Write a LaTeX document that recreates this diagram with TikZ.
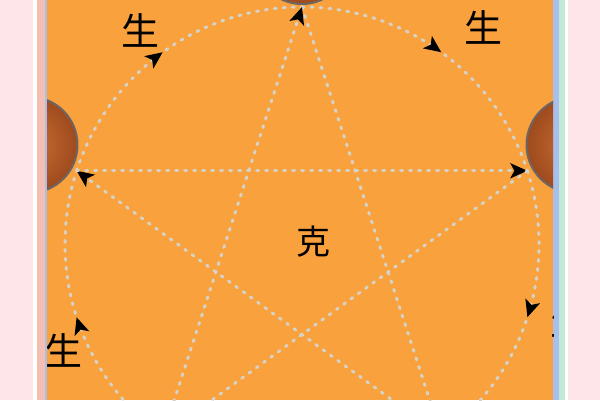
\documentclass[tikz,border=0pt]{standalone}
\usepackage{fontspec}
\newfontfamily\cjkfont{Noto Sans CJK SC}
\usetikzlibrary{positioning}
\usetikzlibrary{arrows.meta}
\usetikzlibrary{decorations.markings}

\definecolor{pagepink}{RGB}{253,229,233}
\definecolor{stripesalmon}{RGB}{245,190,178}
\definecolor{stripeblue}{RGB}{168,190,235}
\definecolor{stripegreen}{RGB}{194,232,214}
\definecolor{boardorange}{RGB}{249,162,61}
\definecolor{dotgray}{RGB}{214,210,200}
\definecolor{rimgray}{RGB}{110,100,98}
\definecolor{brownin}{RGB}{205,112,50}
\definecolor{brownout}{RGB}{158,74,30}

\tikzset{
    elementnode/.style = {circle, minimum size = 96pt, inner sep = 0pt, line width = 2pt, draw = rimgray, inner color = brownin, outer color = brownout},
    dotline/.style = {draw = dotgray, line width = 3pt, dash pattern = on 2pt off 7pt, line cap = round},
    tipstealth/.style = {-{Stealth[length = 17pt, width = 15pt, inset = 4pt, color = black]}},
    midtip/.style = {postaction = {decorate}, decoration = {markings, mark = at position 0.5 with {\arrow{Stealth[length = 17pt, width = 15pt, inset = 4pt, color = black]}}}},
    chartext/.style = {inner sep = 0pt, font = \cjkfont\fontsize{38}{38}\selectfont}
}

\begin{document}
\begin{tikzpicture}[x = 1pt, y = 1pt]
    \useasboundingbox (0, 0) rectangle (600, 400);
    \fill[pagepink] (0, 0) rectangle (600, 400);
    \fill[white] (33, 0) rectangle (37, 400);
    \fill[stripesalmon] (37, 0) rectangle (45, 400);
    \fill[stripeblue] (45, 0) rectangle (47, 400);
    \fill[stripeblue] (553, 0) rectangle (559, 400);
    \fill[stripegreen] (559, 0) rectangle (565, 400);
    \fill[white] (565, 0) rectangle (568, 400);
    \begin{scope}
        \clip (47, 0) rectangle (553, 400);
        \fill[boardorange] (47, 0) rectangle (553, 400);
        \coordinate (c) at (302, 156);
        \path (c) ++(90:237) coordinate (vT);
        \path (c) ++(18:237) coordinate (vR);
        \path (c) ++(-54:237) coordinate (vBR);
        \path (c) ++(-126:237) coordinate (vBL);
        \path (c) ++(162:237) coordinate (vL);
        \node[elementnode] (fire) at ([shift = {(90:288)}]c) {};
        \node[elementnode] (wood) at ([shift = {(160:290)}]c) {};
        \node[elementnode] (earth) at ([shift = {(20:290)}]c) {};
        \draw[dotline, midtip] (vL) arc[start angle = 162, end angle = 90, radius = 237];
        \draw[dotline, midtip] (vT) arc[start angle = 90, end angle = 18, radius = 237];
        \draw[dotline, midtip] (vR) arc[start angle = 18, end angle = -54, radius = 237];
        \draw[dotline, midtip] (vBR) arc[start angle = -54, end angle = -126, radius = 237];
        \draw[dotline, midtip] (vBL) arc[start angle = -126, end angle = -198, radius = 237];
        \draw[dotline, tipstealth] (vT) -- (vBR);
        \draw[dotline, tipstealth] (vBR) -- (vL);
        \draw[dotline, tipstealth] (vL) -- (vR);
        \draw[dotline, tipstealth] (vR) -- (vBL);
        \draw[dotline, tipstealth] (vBL) -- (vT);
        \node[chartext] (shengTL) at ([shift = {(127:268)}]c) {生};
        \node[chartext] (shengTR) at ([shift = {(50:283)}]c) {生};
        \node[chartext] (shengBR) at ([shift = {(-16:278)}]c) {生};
        \node[chartext] (shengBL) at ([shift = {(204:261)}]c) {生};
        \node[chartext, font = \cjkfont\fontsize{34}{34}\selectfont, xshift = 11pt, yshift = 2pt] (ke) at (c) {克};
    \end{scope}
\end{tikzpicture}
\end{document}
